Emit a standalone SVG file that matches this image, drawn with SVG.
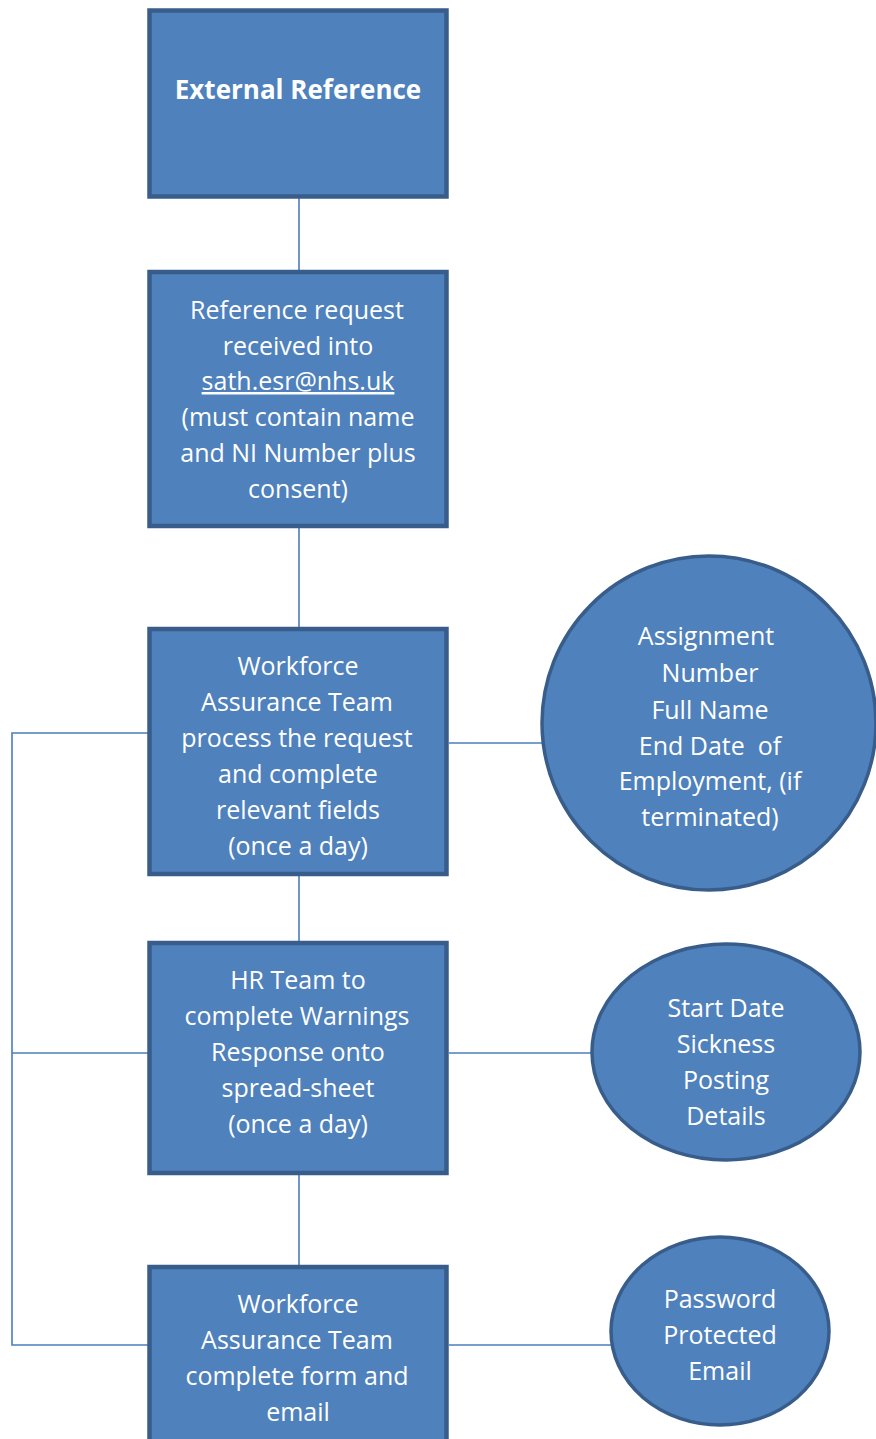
<svg xmlns="http://www.w3.org/2000/svg" width="876" height="1439" viewBox="0 0 876 1439">
<style>
.box{fill:#4F81BD;stroke:#385D8A;stroke-width:4.5}
.ell{fill:#4F81BD;stroke:#385D8A;stroke-width:3.5}
.con{fill:none;stroke:#4A7EBB;stroke-width:1.6}
text{font-family:"Open Sans","Noto Sans",sans-serif;font-size:25px;fill:#FFFFFF;text-anchor:middle;white-space:pre}
.b{font-weight:bold;font-size:26px}
</style>
<rect width="876" height="1439" fill="#FFFFFF"/>
<g id="connectors">
<line class="con" x1="299" y1="198" x2="299" y2="270"/>
<line class="con" x1="299" y1="528" x2="299" y2="627"/>
<line class="con" x1="299" y1="876" x2="299" y2="941"/>
<line class="con" x1="299" y1="1175" x2="299" y2="1265"/>
<polyline class="con" points="149,733 12,733 12,1345 149,1345"/>
<line class="con" x1="12" y1="1053" x2="149" y2="1053"/>
<line class="con" x1="449" y1="743" x2="542" y2="743"/>
<line class="con" x1="449" y1="1053" x2="592" y2="1053"/>
<line class="con" x1="449" y1="1345" x2="611" y2="1345"/>
</g>
<g id="external-reference">
<rect class="box" x="149.5" y="10.5" width="297" height="186"/>
<text class="b" x="298" y="99">External Reference</text>
</g>
<g id="reference-request">
<rect class="box" x="149.5" y="272" width="297" height="254"/>
<text x="297" y="319">Reference request</text>
<text x="298" y="355">received into</text>
<text x="298" y="390" text-decoration="underline">sath.esr@nhs.uk</text>
<text x="298" y="426">(must contain name</text>
<text x="298" y="462">and NI Number plus</text>
<text x="298" y="498">consent)</text>
</g>
<g id="workforce-process">
<rect class="box" x="149.5" y="629" width="297" height="245"/>
<text x="298" y="675">Workforce</text>
<text x="297" y="711">Assurance Team</text>
<text x="297" y="747">process the request</text>
<text x="298" y="783">and complete</text>
<text x="298" y="819">relevant fields</text>
<text x="298" y="855">(once a day)</text>
</g>
<g id="hr-team">
<rect class="box" x="149.5" y="943" width="297" height="230"/>
<text x="298" y="989">HR Team to</text>
<text x="297" y="1025">complete Warnings</text>
<text x="298" y="1061">Response onto</text>
<text x="298" y="1097">spread-sheet</text>
<text x="298" y="1133">(once a day)</text>
</g>
<g id="workforce-email">
<rect class="box" x="149.5" y="1267" width="297" height="200"/>
<text x="298" y="1313">Workforce</text>
<text x="297" y="1349">Assurance Team</text>
<text x="297" y="1385">complete form and</text>
<text x="298" y="1421">email</text>
</g>
<g id="assignment-details">
<ellipse class="ell" cx="709" cy="723" rx="167" ry="167"/>
<text x="706" y="645">Assignment</text>
<text x="710" y="682">Number</text>
<text x="710" y="719">Full Name</text>
<text x="710" y="755">End Date  of</text>
<text x="710" y="790">Employment, (if</text>
<text x="710" y="826">terminated)</text>
</g>
<g id="start-date">
<ellipse class="ell" cx="726" cy="1052" rx="134" ry="108"/>
<text x="726" y="1017">Start Date</text>
<text x="726" y="1053">Sickness</text>
<text x="726" y="1089">Posting</text>
<text x="726" y="1125">Details</text>
</g>
<g id="password-email">
<ellipse class="ell" cx="720" cy="1331" rx="109" ry="94"/>
<text x="720" y="1308">Password</text>
<text x="720" y="1344">Protected</text>
<text x="720" y="1380">Email</text>
</g>
</svg>
